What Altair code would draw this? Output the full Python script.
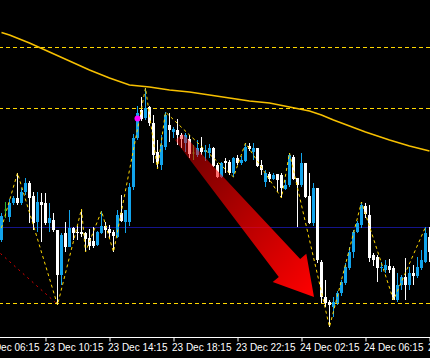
import altair as alt
import pandas as pd

# ---------------- data (15-minute bars, 23-24 Dec) ----------------
START = pd.Timestamp("2013-12-23 07:30", tz="UTC")
BAR = pd.Timedelta(minutes=15)

opens = [1.3480, 1.3510, 1.3503, 1.3517, 1.3522, 1.3517, 1.3528, 1.3537, 1.3524, 1.3498,
         1.3518, 1.3517, 1.3497, 1.3500, 1.3490, 1.3445, 1.3487, 1.3473, 1.3492, 1.3488,
         1.3488, 1.3487, 1.3482, 1.3479, 1.3475, 1.3487, 1.3494, 1.3491, 1.3488, 1.3483,
         1.3507, 1.3498, 1.3498, 1.3533, 1.3582, 1.3610, 1.3602, 1.3613, 1.3597, 1.3568,
         1.3555, 1.3573, 1.3595, 1.3588, 1.3590, 1.3585, 1.3577, 1.3581, 1.3567, 1.3565,
         1.3572, 1.3568, 1.3567, 1.3572, 1.3555, 1.3543, 1.3559, 1.3558, 1.3547, 1.3562,
         1.3557, 1.3559, 1.3574, 1.3568, 1.3572, 1.3555, 1.3538, 1.3546, 1.3541, 1.3546,
         1.3545, 1.3531, 1.3535, 1.3563, 1.3542, 1.3535, 1.3557, 1.3524, 1.3497, 1.3532,
         1.3458, 1.3423, 1.3418, 1.3413, 1.3417, 1.3427, 1.3437, 1.3452, 1.3468, 1.3488,
         1.3495, 1.3514, 1.3505, 1.3465, 1.3463, 1.3452, 1.3450, 1.3454, 1.3452, 1.3420,
         1.3435, 1.3443, 1.3435, 1.3447, 1.3444, 1.3452, 1.3458, 1.3483]
highs = [1.3507, 1.3518, 1.3521, 1.3524, 1.3547, 1.3532, 1.3542, 1.3539, 1.3528, 1.3528,
         1.3527, 1.3527, 1.3517, 1.3507, 1.3490, 1.3487, 1.3498, 1.3510, 1.3493, 1.3494,
         1.3511, 1.3488, 1.3491, 1.3493, 1.3489, 1.3509, 1.3498, 1.3495, 1.3490, 1.3510,
         1.3525, 1.3510, 1.3537, 1.3586, 1.3614, 1.3623, 1.3632, 1.3614, 1.3605, 1.3580,
         1.3585, 1.3608, 1.3607, 1.3593, 1.3601, 1.3587, 1.3587, 1.3585, 1.3575, 1.3580,
         1.3583, 1.3575, 1.3576, 1.3573, 1.3557, 1.3558, 1.3562, 1.3560, 1.3563, 1.3565,
         1.3564, 1.3577, 1.3577, 1.3577, 1.3572, 1.3560, 1.3550, 1.3548, 1.3547, 1.3546,
         1.3547, 1.3540, 1.3567, 1.3565, 1.3542, 1.3567, 1.3557, 1.3547, 1.3537, 1.3532,
         1.3460, 1.3440, 1.3420, 1.3423, 1.3429, 1.3440, 1.3457, 1.3473, 1.3490, 1.3499,
         1.3518, 1.3517, 1.3515, 1.3467, 1.3465, 1.3458, 1.3460, 1.3461, 1.3454, 1.3447,
         1.3445, 1.3462, 1.3453, 1.3455, 1.3463, 1.3470, 1.3493, 1.3493]
lows = [1.3478, 1.3502, 1.3498, 1.3515, 1.3515, 1.3515, 1.3525, 1.3497, 1.3490, 1.3488,
        1.3478, 1.3495, 1.3488, 1.3488, 1.3415, 1.3435, 1.3468, 1.3473, 1.3480, 1.3480,
        1.3483, 1.3468, 1.3470, 1.3472, 1.3474, 1.3486, 1.3482, 1.3482, 1.3468, 1.3482,
        1.3498, 1.3487, 1.3494, 1.3530, 1.3580, 1.3599, 1.3600, 1.3594, 1.3557, 1.3551,
        1.3550, 1.3570, 1.3578, 1.3582, 1.3575, 1.3572, 1.3568, 1.3562, 1.3560, 1.3563,
        1.3565, 1.3559, 1.3562, 1.3553, 1.3542, 1.3542, 1.3547, 1.3545, 1.3543, 1.3555,
        1.3555, 1.3558, 1.3569, 1.3560, 1.3553, 1.3545, 1.3533, 1.3538, 1.3540, 1.3528,
        1.3522, 1.3530, 1.3533, 1.3540, 1.3493, 1.3533, 1.3522, 1.3496, 1.3494, 1.3457,
        1.3417, 1.3413, 1.3393, 1.3403, 1.3415, 1.3424, 1.3435, 1.3450, 1.3462, 1.3487,
        1.3492, 1.3502, 1.3458, 1.3454, 1.3438, 1.3448, 1.3447, 1.3447, 1.3420, 1.3418,
        1.3430, 1.3420, 1.3430, 1.3435, 1.3442, 1.3450, 1.3457, 1.3458]
closes = [1.3504, 1.3510, 1.3517, 1.3522, 1.3517, 1.3528, 1.3537, 1.3522, 1.3497, 1.3518,
          1.3515, 1.3497, 1.3502, 1.3490, 1.3445, 1.3485, 1.3473, 1.3492, 1.3487, 1.3487,
          1.3486, 1.3481, 1.3474, 1.3474, 1.3488, 1.3494, 1.3490, 1.3487, 1.3484, 1.3505,
          1.3499, 1.3510, 1.3533, 1.3582, 1.3607, 1.3601, 1.3612, 1.3597, 1.3565, 1.3558,
          1.3575, 1.3605, 1.3590, 1.3591, 1.3585, 1.3581, 1.3585, 1.3566, 1.3567, 1.3572,
          1.3568, 1.3570, 1.3572, 1.3554, 1.3543, 1.3557, 1.3557, 1.3547, 1.3562, 1.3557,
          1.3560, 1.3573, 1.3571, 1.3572, 1.3554, 1.3550, 1.3547, 1.3541, 1.3545, 1.3540,
          1.3532, 1.3535, 1.3565, 1.3541, 1.3535, 1.3557, 1.3523, 1.3497, 1.3532, 1.3460,
          1.3423, 1.3417, 1.3415, 1.3418, 1.3427, 1.3438, 1.3453, 1.3468, 1.3488, 1.3497,
          1.3515, 1.3506, 1.3462, 1.3460, 1.3452, 1.3453, 1.3455, 1.3450, 1.3420, 1.3435,
          1.3443, 1.3435, 1.3447, 1.3444, 1.3453, 1.3460, 1.3487, 1.3468]

# moving average (bar index, value)
ma_bar = [0, 2, 7, 12, 17, 22, 27, 32, 37, 42, 47, 52, 57, 62, 67, 72, 77, 80, 83, 87, 91, 97, 102, 107]
ma_val = [1.36875, 1.3685, 1.3677, 1.3668, 1.3659, 1.3650, 1.3642, 1.3635, 1.3633, 1.3630, 1.3628, 1.3625,
          1.3622, 1.3619, 1.3617, 1.3613, 1.3609, 1.3605, 1.3600, 1.3594, 1.3588, 1.3580, 1.3574, 1.3569]

# zigzag swing points (bar index, value)
zz_bar = [0, 4, 14, 20, 21, 25, 28, 36, 39, 41, 58, 61, 70, 72, 82, 90, 98, 106]
zz_val = [1.3492, 1.3547, 1.3415, 1.3511, 1.3468, 1.3509, 1.3468, 1.3632, 1.3551, 1.3608,
          1.3543, 1.3577, 1.3522, 1.3567, 1.3393, 1.3518, 1.3420, 1.3493]

# red trend line
tl_bar = [-0.25, 13.5]
tl_val = [1.34665, 1.34175]

# horizontal levels
levels = [1.36725, 1.36115, 1.34165]
blue_level = [1.34925]

# annotations
arrow_bar, arrow_val = 61, 1.35045
dot_bar, dot_val = 34, 1.36015

tick_times = ["2013-12-23 06:15", "2013-12-23 10:15", "2013-12-23 14:15", "2013-12-23 18:15",
              "2013-12-23 22:15", "2013-12-24 02:15", "2013-12-24 06:15", "2013-12-24 10:15"]

# ---------------- helpers ----------------
def ts(k):
    return (START + BAR * k).strftime("%Y-%m-%dT%H:%M:%S") + "Z"

def ms(stamp):
    return int(stamp.value // 10**6)

n = len(opens)
dirs = ["up" if c > o else ("down" if c < o else "doji") for o, c in zip(opens, closes)]
candles = pd.DataFrame({"t": [ts(k) for k in range(n)], "o": opens, "h": highs,
                        "l": lows, "c": closes, "dir": dirs})
ma_df = pd.DataFrame({"t": [ts(k) for k in ma_bar], "p": ma_val})
zz_df = pd.DataFrame({"t": [ts(k) for k in zz_bar], "p": zz_val})
tl_df = pd.DataFrame({"t": [ts(k) for k in tl_bar], "p": tl_val})
lvl_df = pd.DataFrame({"p": levels})
blue_df = pd.DataFrame({"p": blue_level})
arrow_df = pd.DataFrame({"t": [ts(arrow_bar)], "p": [arrow_val]})
dot_df = pd.DataFrame({"t": [ts(dot_bar)], "p": [dot_val]})

ticks = [pd.Timestamp(s, tz="UTC") for s in tick_times]
x_lo = START + BAR * (-0.375)
x_hi = START + BAR * 107.125
in_ticks = [ms(s) for s in ticks if x_lo <= s <= x_hi]
out_df = pd.DataFrame({"t": [s.strftime("%Y-%m-%dT%H:%M:%SZ") for s in ticks if s < x_lo],
                       "label": [s.strftime("%d %b %H:%M") for s in ticks if s < x_lo]})

xscale = alt.Scale(type="utc", domain=[ms(x_lo), ms(x_hi)], nice=False, padding=0)
yscale = alt.Scale(domain=[1.3383, 1.3720], nice=False, zero=False, padding=0)

FONT = "Liberation Sans"
WHITE = "#FFFFFF"
BLUE = "#12A4EC"
GREEN = "#2DB52D"
YEL = "#FFD700"
MA_COL = "#F7C000"

xaxis = alt.Axis(values=in_ticks, labelExpr="utcFormat(datum.value, '%d %b %H:%M')",
                 title=None, grid=False, domainColor=WHITE, tickColor=WHITE,
                 labelColor=WHITE, tickSize=4, labelFont=FONT, labelFontSize=10,
                 labelAlign="left", labelBaseline="top", labelPadding=1, labelOffset=-1.5,
                 labelFlush=False, labelOverlap=False, labelBound=False,
                 translate=0, offset=0.5, domainWidth=1, tickWidth=1)

X = lambda: alt.X("t:T", scale=xscale, axis=xaxis)
Y = lambda f: alt.Y(f, scale=yscale, axis=None)
color = alt.Color("dir:N", scale=alt.Scale(domain=["up", "down", "doji"],
                                           range=[BLUE, WHITE, GREEN]), legend=None)

blue_line = alt.Chart(blue_df).mark_rule(color="#14148C", strokeWidth=1).encode(y=Y("p:Q"))
lvl = alt.Chart(lvl_df).mark_rule(color=YEL, strokeWidth=1, strokeDash=[4, 3]).encode(y=Y("p:Q"))
ma = alt.Chart(ma_df).mark_line(color=MA_COL, strokeWidth=1.5).encode(x=X(), y=Y("p:Q"))
tl = alt.Chart(tl_df).mark_line(color="#E00000", strokeWidth=1, strokeDash=[2, 4]).encode(
    x=X(), y=Y("p:Q"))

base = alt.Chart(candles)
wicks = base.mark_rule(strokeWidth=1).encode(x=X(), y=Y("h:Q"), y2="l:Q", color=color)
bodies = base.mark_bar(size=3).encode(x=X(), y=Y("o:Q"), y2="c:Q", color=color)
doji = base.transform_filter("datum.dir == 'doji'").mark_tick(
    orient="horizontal", size=3, thickness=1).encode(x=X(), y=Y("o:Q"), color=color)

zz = alt.Chart(zz_df).mark_line(color=YEL, strokeWidth=1, strokeDash=[3, 3]).encode(
    x=X(), y=Y("p:Q"))

ARROW = ("M -0.627 -0.817 L 0.547 0.434 L 0.608 0.383 L 0.685 0.815 "
         "L 0.272 0.666 L 0.333 0.615 L -0.703 -0.753 Z")
arrow_fill = alt.Gradient(gradient="linear",
                          stops=[alt.GradientStop(color="rgba(255,0,0,0.4)", offset=0),
                                 alt.GradientStop(color="rgba(255,0,0,1)", offset=1)],
                          x1=0, y1=0, x2=1, y2=1)
arrow = alt.Chart(arrow_df).mark_point(shape=ARROW, size=40000, filled=True, fill=arrow_fill,
                                       opacity=1, strokeWidth=0).encode(x=X(), y=Y("p:Q"))
dot = alt.Chart(dot_df).mark_point(shape="circle", size=36, filled=True, color="#FF00FF",
                                   opacity=1).encode(x=X(), y=Y("p:Q"))

edge_label = alt.Chart(out_df).mark_text(align="left", baseline="top", color=WHITE, dx=-1.5,
                                         font=FONT, fontSize=10).encode(
    x=X(), y=alt.value(342.5), text="label:N")

chart = alt.layer(blue_line, lvl, ma, tl, wicks, bodies, doji, zz, arrow, dot, edge_label).properties(
    width=430, height=337,
    autosize=alt.AutoSizeParams(type="none"),
    padding={"left": 0, "right": 0, "top": 0, "bottom": 21},
    background="#000000",
).configure_view(strokeWidth=0)

chart.save("out.html", embed_options={"renderer": "svg", "actions": False})
